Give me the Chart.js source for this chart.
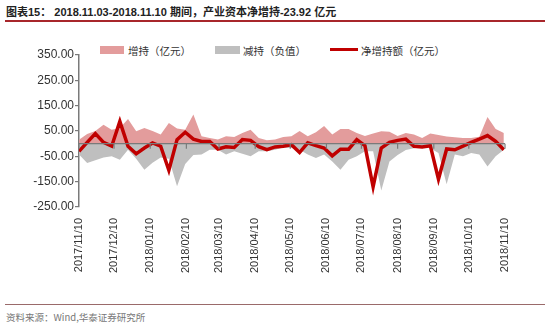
<!DOCTYPE html>
<html lang="zh">
<head>
<meta charset="UTF-8" />
<title>产业资本净增持</title>
<script src="https://cdn.jsdelivr.net/npm/chart.js"></script>
<style>
  body { margin: 0; width: 550px; height: 323px; background: #fff; position: relative; overflow: hidden;
         font-family: 'Liberation Sans', Arial, 'Noto Sans CJK SC', sans-serif; }
  .title { position: absolute; left: 6px; top: 3px; font-size: 11px; font-weight: bold; color: #222;
           font-family: 'Liberation Sans', Arial, 'Noto Sans CJK SC', sans-serif; white-space: nowrap; }
  .rule-top { position: absolute; left: 5px; right: 5px; top: 20px; height: 2px; background: #a8262b; }
  .rule-bottom { position: absolute; left: 5px; right: 5px; top: 304px; height: 1px; background: #9a6a6a; }
  .source { position: absolute; left: 6px; top: 310px; font-size: 9.5px; color: #777;
            font-family: 'Noto Sans CJK SC', 'Liberation Sans', sans-serif; white-space: nowrap; }
  .legend span { position: absolute; }
  .legend .txt { font-size: 10.5px; color: #333; top: 43px; font-family: 'Noto Sans CJK SC', sans-serif; white-space: nowrap; }
  #wrap { position: absolute; left: 0; top: 40px; width: 550px; height: 250px; }
</style>
</head>
<body>
<div class="title">图表15：&nbsp;2018.11.03-2018.11.10 期间，产业资本净增持-23.92 亿元</div>
<div class="rule-top"></div>

<div class="legend">
  <span style="left:100px;top:46px;width:24px;height:8px;background:#e39c9c"></span>
  <span class="txt" style="left:128px">增持（亿元）</span>
  <span style="left:215px;top:46px;width:25px;height:8px;background:#bfbfbf"></span>
  <span class="txt" style="left:243px">减持（负值）</span>
  <span style="left:330px;top:48px;width:28px;height:3px;background:#c00000"></span>
  <span class="txt" style="left:361px">净增持额（亿元）</span>
</div>

<div id="wrap"><canvas id="chart"></canvas></div>

<div class="rule-bottom"></div>
<div class="source">资料来源：Wind,华泰证券研究所</div>

<script>
// weekly dates (week ending)
const weeks = [
  '2017/11/10','2017/11/17','2017/11/24','2017/12/01','2017/12/08','2017/12/15','2017/12/22','2017/12/29',
  '2018/01/05','2018/01/12','2018/01/19','2018/01/26','2018/02/02','2018/02/09','2018/02/16','2018/02/23',
  '2018/03/02','2018/03/09','2018/03/16','2018/03/23','2018/03/30','2018/04/06','2018/04/13','2018/04/20',
  '2018/04/27','2018/05/04','2018/05/11','2018/05/18','2018/05/25','2018/06/01','2018/06/08','2018/06/15',
  '2018/06/22','2018/06/29','2018/07/06','2018/07/13','2018/07/20','2018/07/27','2018/08/03','2018/08/10',
  '2018/08/17','2018/08/24','2018/08/31','2018/09/07','2018/09/14','2018/09/21','2018/09/28','2018/10/05',
  '2018/10/12','2018/10/19','2018/10/26','2018/11/02','2018/11/09'
];

// axis tick labels
const monthLabels = [
  '2017/11/10','2017/12/10','2018/01/10','2018/02/10','2018/03/10','2018/04/10','2018/05/10',
  '2018/06/10','2018/07/10','2018/08/10','2018/09/10','2018/10/10','2018/11/10'
];

// 增持（亿元）
const increase = [
  15, 38, 50, 75, 55, 62, 97, 49, 62, 50, 36, 82, 60, 55, 115, 29,
  22, 16, 29, 26, 42, 55, 22, 13, 16, 26, 29, 50, 29, 45, 70, 36,
  58, 58, 42, 30, 40, 49, 47, 30, 42, 36, 22, 40, 34, 28, 25, 22,
  22, 27, 105, 58, 42
];

// 减持（负值）
const decrease = [
  -43, -76, -65, -55, -50, -63, -24, -60, -103, -75, -55, -60, -168, -80, -45, -43,
  -24, -24, -43, -30, -40, -50, -30, -30, -24, -15, -17, -24, -43, -57, -43, -70,
  -103, -63, -50, -30, -30, -185, -70, -45, -25, -18, -12, -18, -37, -160, -43, -50,
  -37, -43, -90, -50, -24
];

// 净增持额（亿元）
const net = [
  -30, 5, 40, 5, -10, 88, -10, -40, -17, 3, -10, -105, 16, 45, 18, 9,
  9, -21, -12, -15, 16, 13, -12, -24, -13, -10, -4, -35, 3, -8, -17, -48,
  -22, -22, 16, -8, -170, -17, 5, 13, 18, -10, -13, -8, -140, -21, -24, -10,
  5, 18, 32, 9, -23.92
];

const yTicks = [350, 250, 150, 50, -50, -150, -250];

const t0 = Date.parse('2017-11-10');
function toDay(s) {
  return (Date.parse(s.replace(/\//g, '-')) - t0) / 86400000;
}
function pts(arr) {
  return arr.map((v, i) => ({ x: toDay(weeks[i]), y: v }));
}

// zero line + month tick marks on it
const zeroAxis = {
  id: 'zeroAxis',
  afterDatasetsDraw(chart) {
    const { ctx, chartArea, scales } = chart;
    const y0 = scales.y.getPixelForValue(0);
    ctx.save();
    ctx.strokeStyle = '#7a7a7a';
    ctx.lineWidth = 1.2;
    ctx.beginPath();
    ctx.moveTo(chartArea.left, y0);
    ctx.lineTo(chartArea.right, y0);
    monthLabels.forEach(l => {
      const x = scales.x.getPixelForValue(toDay(l));
      ctx.moveTo(x, y0);
      ctx.lineTo(x, y0 + 5);
    });
    ctx.stroke();
    ctx.restore();
  }
};

new Chart(document.getElementById('chart'), {
  type: 'line',
  data: {
    datasets: [
      {
        label: '净增持额（亿元）',
        data: pts(net),
        borderColor: '#c00000',
        borderWidth: 3.5,
        pointRadius: 0,
        tension: 0,
        fill: false,
        order: 0
      },
      {
        label: '增持（亿元）',
        data: pts(increase),
        borderWidth: 0,
        backgroundColor: '#e39c9c',
        pointRadius: 0,
        tension: 0,
        fill: 'origin',
        order: 2
      },
      {
        label: '减持（负值）',
        data: pts(decrease),
        borderWidth: 0,
        backgroundColor: '#bfbfbf',
        pointRadius: 0,
        tension: 0,
        fill: 'origin',
        order: 1
      }
    ]
  },
  options: {
    responsive: true,
    maintainAspectRatio: false,
    animation: false,
    layout: { padding: { top: 15, right: 45, left: 0, bottom: 0 } },
    plugins: {
      legend: { display: false },
      tooltip: { enabled: false }
    },
    scales: {
      x: {
        type: 'linear',
        min: 0,
        max: toDay(monthLabels[monthLabels.length - 1]),
        afterBuildTicks: scale => {
          scale.ticks = monthLabels.map(l => ({ value: toDay(l) }));
        },
        afterFit: scale => { scale.height = 83; },
        grid: { display: false, drawTicks: false },
        border: { display: false },
        ticks: {
          autoSkip: false,
          maxRotation: 90,
          minRotation: 90,
          padding: 11,
          color: '#333',
          font: { family: "'Liberation Sans', Arial, sans-serif", size: 11 },
          callback: (v, i) => monthLabels[i]
        }
      },
      y: {
        min: -250,
        max: 350,
        afterBuildTicks: scale => {
          scale.ticks = yTicks.map(v => ({ value: v }));
        },
        afterFit: scale => { scale.width = 79; },
        grid: { drawOnChartArea: false, drawTicks: true, tickLength: 4, color: '#7a7a7a', lineWidth: 1.2 },
        border: { display: true, color: '#7a7a7a', width: 1.5 },
        ticks: {
          padding: 1,
          color: '#333',
          font: { family: "'Liberation Sans', Arial, sans-serif", size: 12 },
          callback: v => v.toFixed(2)
        }
      }
    }
  },
  plugins: [zeroAxis]
});
</script>
</body>
</html>
